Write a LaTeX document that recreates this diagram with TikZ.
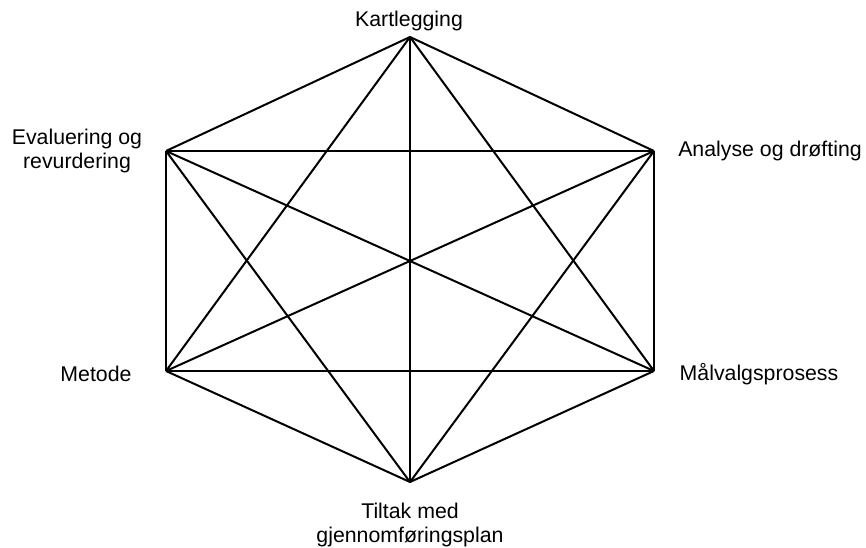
\documentclass[tikz,border=0pt]{standalone}
\usepackage{fontspec}
\setmainfont{Liberation Sans}
\begin{document}
\begin{tikzpicture}[x=1pt,y=1pt,
  edge/.style={line width=2pt,black},
  lbl/.style={inner sep=0pt,font=\fontsize{21.3}{24}\selectfont},
  lblc/.style={lbl,align=center}]
\useasboundingbox (0,0) rectangle (866,547);
\coordinate (K) at (410,510);
\coordinate (E) at (166,396);
\coordinate (A) at (654,396);
\coordinate (M) at (166,176);
\coordinate (P) at (654,176);
\coordinate (T) at (410,65);
\foreach \a/\b in {K/E,K/A,K/M,K/P,K/T,E/A,E/M,E/P,E/T,A/M,A/P,A/T,M/P,M/T,P/T}
  \draw[edge] (\a) -- (\b);
\node[lbl,anchor=base] (lK) at (409,520) {Kartlegging};
\node[lbl,anchor=base] (lA) at (770,390) {Analyse og drøfting};
\node[lbl,anchor=base] (lM) at (96,166) {Metode};
\node[lbl,anchor=base] (lP) at (759,167) {Målvalgsprosess};
\node[lblc] (lE) at (77,396) {Evaluering og\\revurdering};
\node[lblc] (lT) at (410,22) {Tiltak med\\gjennomføringsplan};
\end{tikzpicture}
\end{document}
